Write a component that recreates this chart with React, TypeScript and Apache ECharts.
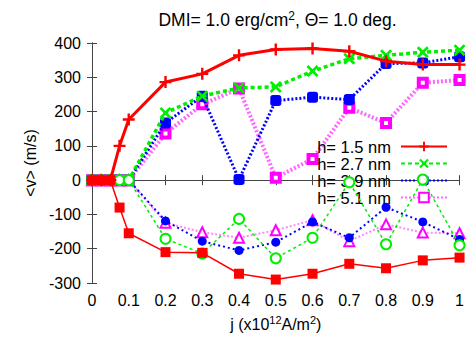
import React, { useEffect, useRef } from "react";
import * as echarts from "echarts";

const jValues = [0, 0.025, 0.05, 0.075, 0.1, 0.2, 0.3, 0.4, 0.5, 0.6, 0.7, 0.8, 0.9, 1.0];
const seriesNames = ["h= 1.5 nm", "h= 2.7 nm", "h= 3.9 nm", "h= 5.1 nm"];
const h15Upper = [0, 0, 0, 100, 177, 286, 310, 364, 381, 384, 376, 347, 337, 337];
const h15Lower = [0, 0, 0, -80, -155, -210, -212, -273, -290, -273, -244, -257, -234, -226];
const h27Upper = [0, 0, 0, 0, 0, 196, 245, 269, 272, 318, 354, 364, 373, 379];
const h27Lower = [0, 0, 0, 0, 0, -171, -214, -113, -228, -168, -6, -187, 2, -190];
const h39Upper = [0, 0, 0, 0, 0, 167, 245, 2, 232, 242, 235, 340, 342, 360];
const h39Lower = [0, 0, 0, 0, 0, -119, -178, -205, -181, -122, -168, -79, -122, -173];
const h51Upper = [0, 0, 0, 0, 0, 136, 221, 267, 7, 62, 211, 167, 284, 292];
const h51Lower = [0, 0, 0, 0, 0, -124, -152, -168, -146, -117, -178, -129, -153, -155];

const FONT = "'Liberation Sans', Arial, Helvetica, sans-serif";
const PLUS = "path://M4,0H6V4H10V6H6V10H4V6H0V4H4Z";
const CROSS = "path://M0,1.6L1.6,0L5,3.4L8.4,0L10,1.6L6.6,5L10,8.4L8.4,10L5,6.6L1.6,10L0,8.4L3.4,5Z";

const pairs = (ys: number[]) => jValues.map((x, i) => [x, ys[i]]);

export default function App() {
  const ref = useRef<HTMLDivElement>(null);
  useEffect(() => {
    if (!ref.current) return;
    const chart = echarts.init(ref.current, undefined, { renderer: "svg" });
    const axisLine = { show: true, lineStyle: { color: "#444", width: 1 } };
    const tick = { show: true, inside: true, length: 5, lineStyle: { color: "#444" } };
    const xFmt = (v: number) => (Math.abs(v) < 1e-9 ? "0" : Math.abs(v - 1) < 1e-9 ? "1" : v.toFixed(1));
    const sup = { fontSize: 11, verticalAlign: "top", padding: [0, 0, 9, 0], fontFamily: FONT, color: "#000" };
    const supT = { fontSize: 12, verticalAlign: "top", padding: [0, 0, 9, 0], fontFamily: FONT, color: "#000" };
    chart.setOption({
      animation: false,
      backgroundColor: "#fff",
      textStyle: { fontFamily: FONT },
      grid: { left: 92, right: 4, top: 43, bottom: 55, containLabel: false },
      graphic: [
        {
          type: "text",
          x: 277.5,
          y: 20,
          style: {
            text: "DMI= 1.0 erg/cm{sup|2}, Θ= 1.0 deg.",
            align: "center",
            verticalAlign: "middle",
            fontFamily: FONT,
            fontSize: 17.5,
            fill: "#000",
            rich: { sup: supT },
          },
        },
      ],
      legend: {
        data: seriesNames,
        orient: "vertical",
        align: "right",
        right: 14,
        top: 133,
        itemWidth: 46,
        itemHeight: 12,
        itemGap: 0,
        textStyle: { fontFamily: FONT, fontSize: 16.5, lineHeight: 16.7, color: "#000", padding: [0, 5, 0, 0] },
        selectedMode: false,
      },
      xAxis: [
        {
          type: "value",
          min: 0,
          max: 1,
          interval: 0.1,
          position: "bottom",
          name: "j (x10{sup|12}A/m{sup|2})",
          nameLocation: "middle",
          nameGap: 31,
          nameTextStyle: { fontFamily: FONT, fontSize: 16, color: "#000", rich: { sup } },
          axisLine,
          axisTick: tick,
          splitLine: { show: false },
          axisLabel: { fontFamily: FONT, fontSize: 16, color: "#000", margin: 9, formatter: xFmt },
        },
        {
          type: "value",
          min: 0,
          max: 1,
          interval: 0.1,
          position: "top",
          axisLine,
          axisTick: tick,
          splitLine: { show: false },
          axisLabel: { show: false },
        },
      ],
      yAxis: [
        {
          type: "value",
          min: -300,
          max: 400,
          interval: 100,
          position: "left",
          name: "<v> (m/s)",
          nameLocation: "middle",
          nameGap: 50,
          nameTextStyle: { fontFamily: FONT, fontSize: 16, color: "#000" },
          axisLine,
          axisTick: tick,
          splitLine: { show: false },
          axisLabel: { fontFamily: FONT, fontSize: 16, color: "#000", margin: 11 },
        },
        {
          type: "value",
          min: -300,
          max: 400,
          interval: 100,
          position: "right",
          axisLine,
          axisTick: tick,
          splitLine: { show: false },
          axisLabel: { show: false },
        },
      ],
      series: [
        {
          name: seriesNames[0],
          type: "line",
          data: pairs(h15Upper),
          symbol: PLUS,
          symbolSize: 12,
          color: "#ff0000",
          lineStyle: { color: "#ff0000", width: 3 },
          itemStyle: { color: "#ff0000" },
          clip: false,
          z: 5,
        },
        {
          name: seriesNames[1],
          type: "line",
          data: pairs(h27Upper),
          symbol: CROSS,
          symbolSize: 12,
          color: "#00ee00",
          lineStyle: { color: "#00ee00", width: 3.5, type: [4, 3] },
          itemStyle: { color: "#00ee00" },
          clip: false,
          z: 4,
        },
        {
          name: seriesNames[2],
          type: "line",
          data: pairs(h39Upper),
          symbol: "roundRect",
          symbolSize: 11,
          color: "#0000ff",
          lineStyle: { color: "#0000ff", width: 3, type: [2, 2] },
          itemStyle: { color: "#0000ff" },
          clip: false,
          z: 3,
        },
        {
          name: seriesNames[3],
          type: "line",
          data: pairs(h51Upper),
          symbol: "rect",
          symbolSize: 8,
          color: "#ff00ff",
          lineStyle: { color: "#ff66ff", width: 4, type: [2, 2] },
          itemStyle: { color: "#ffffff", borderColor: "#ff00ff", borderWidth: 4 },
          clip: false,
          z: 2,
        },
        {
          name: seriesNames[0],
          type: "line",
          data: pairs(h15Lower),
          symbol: "rect",
          symbolSize: 10,
          color: "#ff0000",
          lineStyle: { color: "#ff0000", width: 1.5 },
          itemStyle: { color: "#ff0000" },
          clip: false,
          z: 5,
        },
        {
          name: seriesNames[1],
          type: "line",
          data: pairs(h27Lower),
          symbol: "emptyCircle",
          symbolSize: 10,
          color: "#00ee00",
          lineStyle: { color: "#00ee00", width: 1.5, type: [3, 3] },
          itemStyle: { color: "#00ee00", borderColor: "#00ee00", borderWidth: 1.5 },
          clip: false,
          z: 4,
        },
        {
          name: seriesNames[2],
          type: "line",
          data: pairs(h39Lower),
          symbol: "circle",
          symbolSize: 9,
          color: "#0000ff",
          lineStyle: { color: "#0000ff", width: 2, type: [2, 3] },
          itemStyle: { color: "#0000ff" },
          clip: false,
          z: 3,
        },
        {
          name: seriesNames[3],
          type: "line",
          data: pairs(h51Lower),
          symbol: "emptyTriangle",
          symbolSize: 10,
          color: "#ff00ff",
          lineStyle: { color: "#ff88ff", width: 2, type: [2, 2] },
          itemStyle: { color: "#ff00ff", borderColor: "#ff00ff", borderWidth: 1.5 },
          clip: false,
          z: 2,
        },
      ],
    });
    return () => chart.dispose();
  }, []);
  return (
    <div
      ref={ref}
      style={{ position: "fixed", left: 0, top: 0, width: 467, height: 338, background: "#fff" }}
    />
  );
}
